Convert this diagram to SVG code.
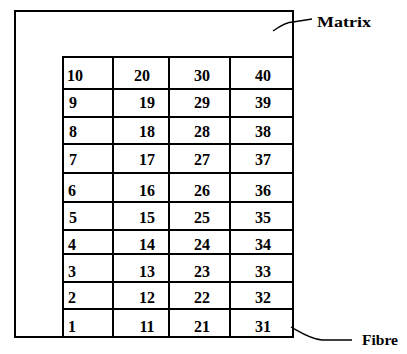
<svg xmlns="http://www.w3.org/2000/svg" width="407" height="354" viewBox="0 0 407 354">
<style>
.ln{stroke:#000;stroke-width:2;fill:none;stroke-linecap:square}
.lead{stroke:#000;stroke-width:1.3;fill:none}
.n{font-family:"Liberation Serif",serif;font-size:16px;font-weight:bold;fill:#000;text-anchor:middle}
.lb{font-family:"Liberation Serif",serif;font-size:15px;font-weight:bold;fill:#000}
</style>
<rect width="407" height="354" fill="#fff"/>
<g id="matrix">
<path class="ln" d="M15,11 H293 V337 H15 Z"/>
</g>
<g id="fibres">
<path class="ln" d="M63,57 H293 M63,57 V337 M113,57 V337 M169,57 V337 M230,57 V337 M63,89 H293 M63,117 H293 M63,144 H293 M63,173 H293 M63,202 H293 M63,230 H293 M63,254 H293 M63,282 H293 M63,309 H293"/>
<g>
<text class="n" x="75" y="81">10</text><text class="n" x="142" y="81">20</text><text class="n" x="202" y="81">30</text><text class="n" x="263" y="81">40</text>
<text class="n" x="73" y="108">9</text><text class="n" x="147" y="108">19</text><text class="n" x="202" y="108">29</text><text class="n" x="263" y="108">39</text>
<text class="n" x="73" y="137">8</text><text class="n" x="147" y="137">18</text><text class="n" x="202" y="137">28</text><text class="n" x="263" y="137">38</text>
<text class="n" x="73" y="165">7</text><text class="n" x="147" y="165">17</text><text class="n" x="202" y="165">27</text><text class="n" x="263" y="165">37</text>
<text class="n" x="72" y="196">6</text><text class="n" x="147" y="196">16</text><text class="n" x="202" y="196">26</text><text class="n" x="263" y="196">36</text>
<text class="n" x="73" y="223">5</text><text class="n" x="147" y="223">15</text><text class="n" x="202" y="223">25</text><text class="n" x="263" y="223">35</text>
<text class="n" x="72" y="250">4</text><text class="n" x="147" y="250">14</text><text class="n" x="202" y="250">24</text><text class="n" x="263" y="250">34</text>
<text class="n" x="72" y="277">3</text><text class="n" x="147" y="277">13</text><text class="n" x="202" y="277">23</text><text class="n" x="263" y="277">33</text>
<text class="n" x="72" y="303">2</text><text class="n" x="147" y="303">12</text><text class="n" x="202" y="303">22</text><text class="n" x="263" y="303">32</text>
<text class="n" x="72" y="332">1</text><text class="n" x="147" y="332">11</text><text class="n" x="202" y="332">21</text><text class="n" x="263" y="332">31</text>
</g>
</g>
<g id="connectors">
<path class="lead" d="M273,31 C280,26 286,22 293,22 L312,19"/>
<path class="lead" d="M291,327 C300,332 310,339 322,340 L352,340"/>
</g>
<g id="labels">
<text class="lb" x="317" y="27" textLength="54" lengthAdjust="spacingAndGlyphs">Matrix</text>
<text class="lb" x="362" y="345" textLength="36" lengthAdjust="spacingAndGlyphs">Fibre</text>
</g>
</svg>
